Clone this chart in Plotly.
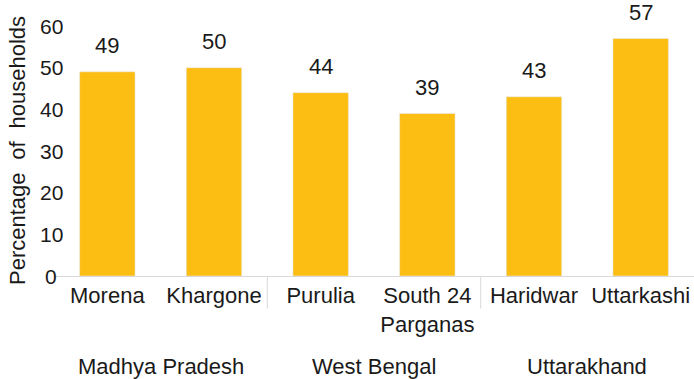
import plotly.graph_objects as go

# Share of households by district, grouped by state
districts = ["Morena", "Khargone", "Purulia", "South 24<br>Parganas", "Haridwar", "Uttarkashi"]
states = ["Madhya Pradesh", "West Bengal", "Uttarakhand"]
state_sizes = [2, 2, 2]
values = [49, 50, 44, 39, 43, 57]
y_ticks = [0, 10, 20, 30, 40, 50, 60]

BAR = "#FDBE13"
FONT = "Liberation Sans, Arial, Helvetica, sans-serif"
TEXT = "#1a1a1a"

xs = list(range(len(districts)))

fig = go.Figure()
fig.add_trace(go.Bar(x=xs, y=values, marker_color=BAR, width=0.52, hoverinfo="skip"))

annotations = []
# Value labels above the bars
for x, v in zip(xs, values):
    annotations.append(dict(x=x, y=v, xref="x", yref="y", text=str(v), showarrow=False,
                            yanchor="bottom", yshift=12, font=dict(size=22, color=TEXT)))

# Y tick labels, centred just left of the plot edge
for t in y_ticks:
    annotations.append(dict(x=0, y=t, xref="paper", yref="y", text=str(t), showarrow=False,
                            xanchor="center", yanchor="middle", xshift=-3,
                            font=dict(size=21, color=TEXT)))

# Y axis title
annotations.append(dict(x=0, y=0.5, xref="paper", yref="paper", xanchor="center", yanchor="middle",
                        xshift=-37, textangle=-90, showarrow=False,
                        text="Percentage\u2002\u200aof\u2002\u200ahouseholds",
                        font=dict(size=22, color=TEXT)))

# State group labels and separators
shapes = []
start = 0
for i, (name, n) in enumerate(zip(states, state_sizes)):
    center = start + (n - 1) / 2
    annotations.append(dict(x=center, y=0, xref="x", yref="paper", text=name, showarrow=False,
                            yanchor="middle", yshift=-90, font=dict(size=22, color=TEXT)))
    if i < len(states) - 1:
        sep = start + n - 0.5
        shapes.append(dict(type="line", xref="x", yref="paper", x0=sep, x1=sep, y0=0, y1=-0.13,
                           line=dict(color="#d9d9d9", width=1)))
    start += n

fig.update_layout(
    width=694, height=379,
    margin=dict(l=54, r=0, t=26, b=103),
    paper_bgcolor="white", plot_bgcolor="white",
    font=dict(family=FONT, size=22, color=TEXT),
    showlegend=False,
    annotations=annotations,
    shapes=shapes,
    xaxis=dict(range=[-0.5, 5.5], tickvals=xs, ticktext=districts, showgrid=False,
               showline=True, linecolor="#d9d9d9", linewidth=1, ticks="",
               tickfont=dict(size=22), zeroline=False, fixedrange=True),
    yaxis=dict(range=[0, 60], showgrid=False, showline=False, zeroline=False,
               showticklabels=False, ticks="", fixedrange=True),
)

fig.write_html("out.html", config={"displayModeBar": False})
